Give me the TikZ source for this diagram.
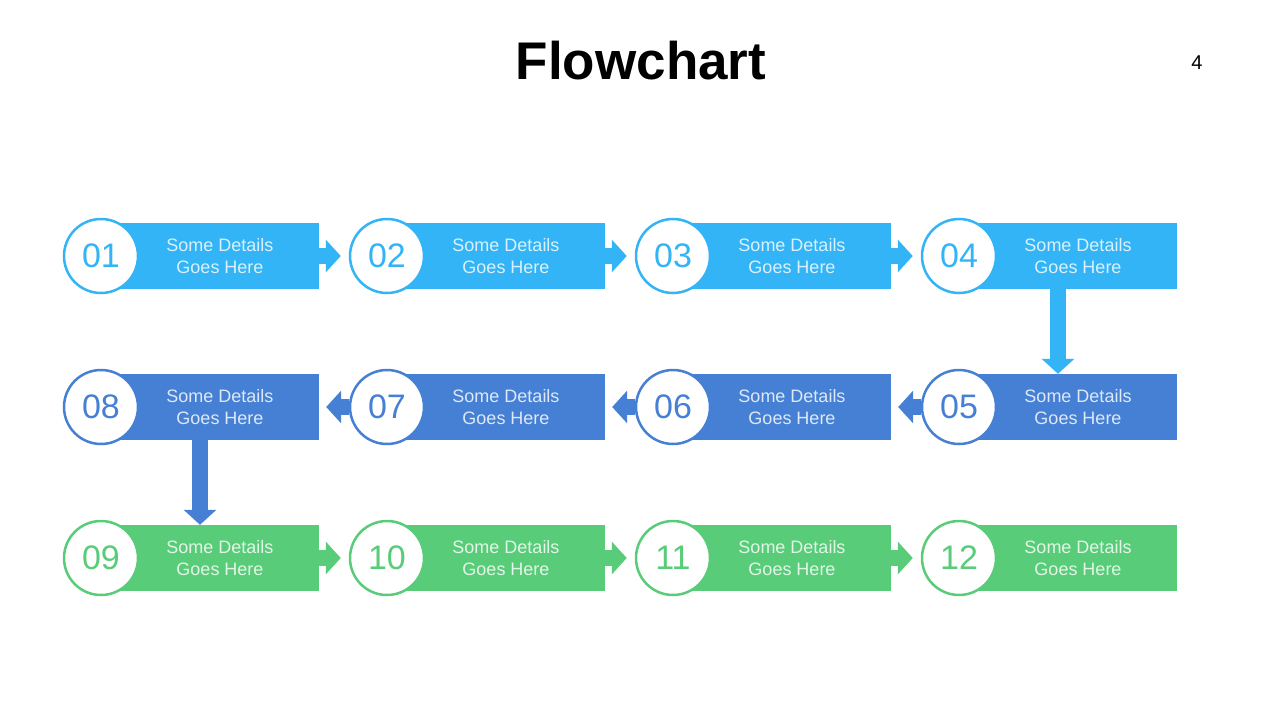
\documentclass[tikz,border=0pt]{standalone}
\usepackage{fontspec}
\setmainfont{Liberation Sans}
\usetikzlibrary{positioning}
\usetikzlibrary{arrows.meta}
\definecolor{rowa}{HTML}{33B4F6}
\definecolor{rowb}{HTML}{4580D4}
\definecolor{rowc}{HTML}{58CC78}

\begin{document}
\begin{tikzpicture}[x=1pt, y=1pt, on grid,
    box/.style={rectangle, fill=#1, minimum width=238pt, minimum height=66pt, inner sep=0pt},
    num/.style={circle, draw=#1, line width=2.5pt, fill=white, minimum size=74pt, inner sep=0pt, text=#1, font=\fontsize{34}{34}\selectfont},
    txt/.style={align=center, text=white!82!#1, font=\fontsize{18}{22}\selectfont},
    ar/.style={draw=#1, line width=16pt, -{Triangle[width=32pt, length=15pt]}}]
  \useasboundingbox[fill=white] (0,0) rectangle (1280,-720);
  \node[font=\fontsize{53}{60}\selectfont\bfseries] (title) at (641,-61) {Flowchart};
  \node[font=\fontsize{20}{24}\selectfont] (page) at (1197,-63) {4};

  % boxes
  \node[box=rowa] (b1) at (200,-256) {};
  \node[box=rowa] (b2) [right=286pt of b1] {};
  \node[box=rowa] (b3) [right=286pt of b2] {};
  \node[box=rowa] (b4) [right=286pt of b3] {};
  \node[box=rowb] (b5) [below=151pt of b4] {};
  \node[box=rowb] (b6) [left=286pt of b5] {};
  \node[box=rowb] (b7) [left=286pt of b6] {};
  \node[box=rowb] (b8) [left=286pt of b7] {};
  \node[box=rowc] (b9) [below=151pt of b8] {};
  \node[box=rowc] (b10) [right=286pt of b9] {};
  \node[box=rowc] (b11) [right=286pt of b10] {};
  \node[box=rowc] (b12) [right=286pt of b11] {};

  % circles
  \node[num=rowa] (c1) [left=99pt of b1] {01};
  \node[num=rowa] (c2) [left=99pt of b2] {02};
  \node[num=rowa] (c3) [left=99pt of b3] {03};
  \node[num=rowa] (c4) [left=99pt of b4] {04};
  \node[num=rowb] (c5) [left=99pt of b5] {05};
  \node[num=rowb] (c6) [left=99pt of b6] {06};
  \node[num=rowb] (c7) [left=99pt of b7] {07};
  \node[num=rowb] (c8) [left=99pt of b8] {08};
  \node[num=rowc] (c9) [left=99pt of b9] {09};
  \node[num=rowc] (c10) [left=99pt of b10] {10};
  \node[num=rowc] (c11) [left=99pt of b11] {11};
  \node[num=rowc] (c12) [left=99pt of b12] {12};

  % texts
  \node[txt=rowa] (t1) at ([xshift=20pt]b1.center) {Some Details\\Goes Here};
  \node[txt=rowa] (t2) at ([xshift=20pt]b2.center) {Some Details\\Goes Here};
  \node[txt=rowa] (t3) at ([xshift=20pt]b3.center) {Some Details\\Goes Here};
  \node[txt=rowa] (t4) at ([xshift=20pt]b4.center) {Some Details\\Goes Here};
  \node[txt=rowb] (t5) at ([xshift=20pt]b5.center) {Some Details\\Goes Here};
  \node[txt=rowb] (t6) at ([xshift=20pt]b6.center) {Some Details\\Goes Here};
  \node[txt=rowb] (t7) at ([xshift=20pt]b7.center) {Some Details\\Goes Here};
  \node[txt=rowb] (t8) at ([xshift=20pt]b8.center) {Some Details\\Goes Here};
  \node[txt=rowc] (t9) at ([xshift=20pt]b9.center) {Some Details\\Goes Here};
  \node[txt=rowc] (t10) at ([xshift=20pt]b10.center) {Some Details\\Goes Here};
  \node[txt=rowc] (t11) at ([xshift=20pt]b11.center) {Some Details\\Goes Here};
  \node[txt=rowc] (t12) at ([xshift=20pt]b12.center) {Some Details\\Goes Here};

  % arrows
  \draw[ar=rowa, shorten >=8pt] (b1.east) -- (c2.west);
  \draw[ar=rowa, shorten >=8pt] (b2.east) -- (c3.west);
  \draw[ar=rowa, shorten >=8pt] (b3.east) -- (c4.west);
  \draw[ar=rowa] (b4.south) -- (b5.north);
  \draw[ar=rowb, shorten >=7pt] (c5.west) -- (b6.east);
  \draw[ar=rowb, shorten >=7pt] (c6.west) -- (b7.east);
  \draw[ar=rowb, shorten >=7pt] (c7.west) -- (b8.east);
  \draw[ar=rowb] (b8.south) -- (b9.north);
  \draw[ar=rowc, shorten >=8pt] (b9.east) -- (c10.west);
  \draw[ar=rowc, shorten >=8pt] (b10.east) -- (c11.west);
  \draw[ar=rowc, shorten >=8pt] (b11.east) -- (c12.west);
\end{tikzpicture}
\end{document}
